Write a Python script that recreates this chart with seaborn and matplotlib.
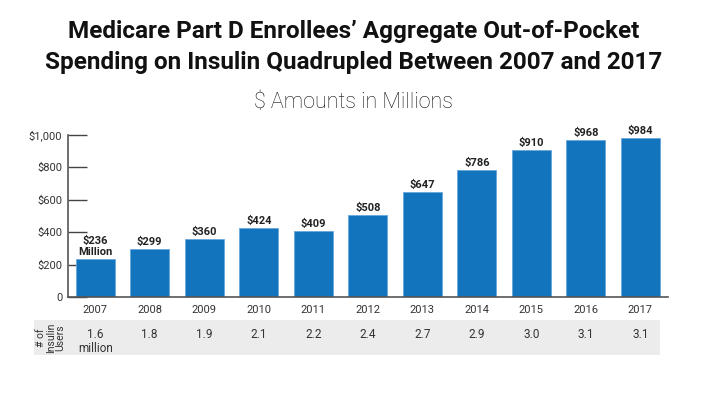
import matplotlib
matplotlib.use("Agg")
import matplotlib.pyplot as plt
import matplotlib.transforms as mtransforms
from matplotlib.patches import Rectangle
import seaborn as sns
import pandas as pd

# datos
years = ["2007", "2008", "2009", "2010", "2011", "2012", "2013", "2014", "2015", "2016", "2017"]
spending = [236, 299, 360, 424, 409, 508, 647, 786, 910, 968, 984]
bar_labels = ["$236\nMillion", "$299", "$360", "$424", "$409", "$508", "$647", "$786", "$910", "$968", "$984"]
users = ["1.6\nmillion", "1.8", "1.9", "2.1", "2.2", "2.4", "2.7", "2.9", "3.0", "3.1", "3.1"]
yticks = [0, 200, 400, 600, 800, 1000]
ytick_labels = ["0", "$200", "$400", "$600", "$800", "$1,000"]

sns.set_theme(style="white")
plt.rcParams['font.family'] = ['Roboto', 'DejaVu Sans']

df = pd.DataFrame({"year": years, "spending": spending})

fig = plt.figure(figsize=(7.08, 3.97), dpi=100)
ax = fig.add_axes([0.096, 0.252, 0.847, 0.408])

sns.barplot(data=df, x="year", y="spending", color="#1174bc", saturation=1,
            width=0.72, edgecolor="#6aa6dc", linewidth=0.6, ax=ax)

ax.set_ylim(0, 1000)
ax.set_yticks(yticks)
ax.set_yticklabels(ytick_labels)
ax.set_xlabel("")
ax.set_ylabel("")
ax.tick_params(axis="y", direction="in", length=14, width=1, color="#444444",
               labelsize=8, labelcolor="#333333", pad=4, left=True)
ax.tick_params(axis="x", length=0, labelsize=8, labelcolor="#333333", pad=6)
for s in ["top", "right"]:
    ax.spines[s].set_visible(False)
for s in ["left", "bottom"]:
    ax.spines[s].set_color("#555555")
    ax.spines[s].set_linewidth(1.2)

# etiquetas sobre las barras
for i, (v, lab) in enumerate(zip(spending, bar_labels)):
    ax.text(i, v + 12, lab, ha="center", va="bottom", fontsize=8,
            fontweight="bold", color="#222222", linespacing=1.1)

# tabla de usuarios
fig.patches.append(Rectangle((0.048, 0.106), 0.884, 0.088, transform=fig.transFigure,
                             facecolor="#ececec", edgecolor="none", zorder=0))
trans = mtransforms.blended_transform_factory(ax.transData, fig.transFigure)
for i, u in enumerate(users):
    fig.text(i, 0.174, u, transform=trans, ha="center", va="top", fontsize=8.5,
             color="#333333", linespacing=1.15)
fig.text(0.072, 0.150, "# of\nInsulin\nUsers", rotation=90, ha="center", va="center",
         fontsize=7.5, color="#333333", linespacing=0.95)

# títulos
fig.text(0.5, 0.881, "Medicare Part D Enrollees’ Aggregate Out-of-Pocket\n"
         "Spending on Insulin Quadrupled Between 2007 and 2017",
         ha="center", va="center", fontsize=17.5, fontweight="bold", color="#111111",
         linespacing=1.42)
fig.text(0.5, 0.742, "$ Amounts in Millions", ha="center", va="center",
         fontsize=15.5, fontweight="light", color="#111111")

plt.savefig("out.png", dpi=100)
